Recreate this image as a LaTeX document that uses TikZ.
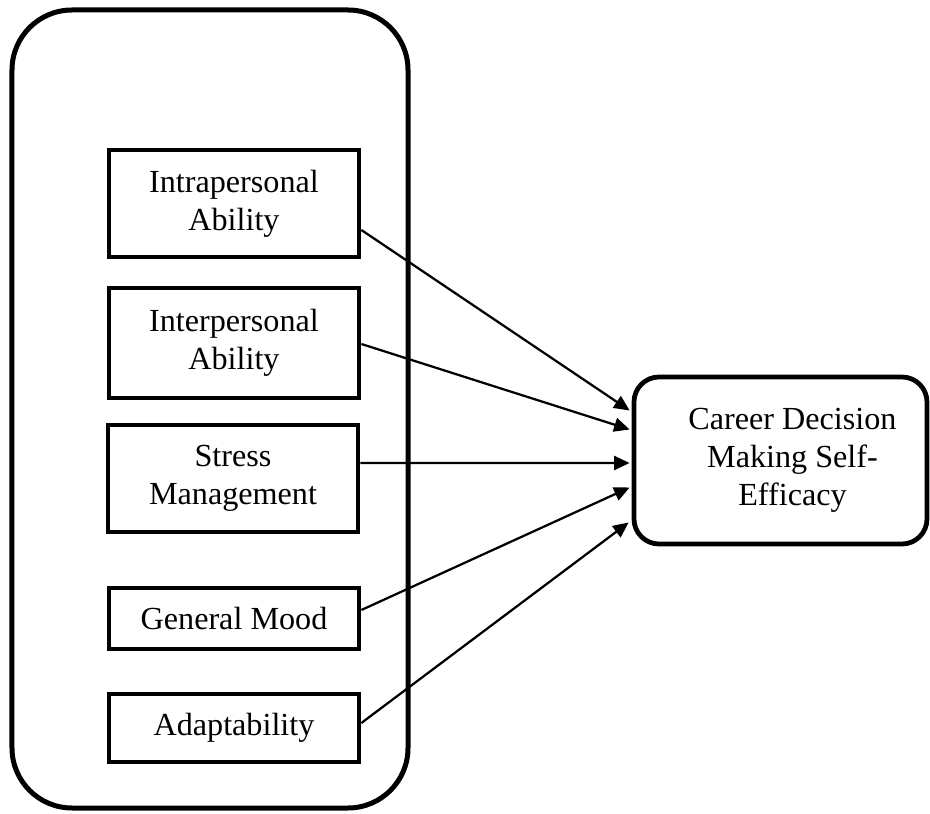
\documentclass[tikz,border=0pt]{standalone}
\usepackage{fontspec}
\setmainfont{Liberation Serif}
\usetikzlibrary{arrows.meta,calc}

\begin{document}
\begin{tikzpicture}[x=0.2mm,y=-0.2mm,
    every node/.style={font=\fontsize{18.3}{21.8}\selectfont,align=center},
    factor/.style={draw,line width=0.95mm,minimum width=50mm,inner sep=0pt},
    link/.style={line width=0.45mm,-{Triangle[length=3.1mm,width=2.8mm]}}]

    \useasboundingbox (0,0) rectangle (930,814);

    % Rounded frame around the five factors
    \node[draw,line width=1mm,rounded corners=12mm,
      minimum width=79.2mm,minimum height=159.6mm] (ei) at (210,409) {};

    % Factors
    \node[factor,minimum height=21.4mm] (intra) at (234,203.5) {Intrapersonal\\Ability};
    \node[factor,minimum height=22mm]   (inter) at (234,343)   {Interpersonal\\Ability};
    \node[factor,minimum height=21.4mm] (stress) at (233,478.5) {Stress\\Management};
    \node[factor,minimum height=12.2mm] (mood)  at (234,618.5) {General Mood};
    \node[factor,minimum height=13.6mm] (adapt) at (234,728)   {Adaptability};

    % Outcome
    \node[draw,line width=0.95mm,rounded corners=5mm,
      minimum width=58.6mm,minimum height=33.4mm,
      label={[xshift=2.4mm]center:{Career Decision\\Making Self-\\Efficacy}}] (cdse) at (780.5,460.5) {};

    % Paths into the outcome
    \draw[link] ($(intra.east)+(0,26.5)$)  -- ($(cdse.west)+(-2,-50)$);
    \draw[link] ($(inter.east)+(0,1)$)     -- ($(cdse.west)+(-2,-31)$);
    \draw[link] ($(stress.east)+(0,-15.5)$) -- ($(cdse.west)+(-2,2.5)$);
    \draw[link] ($(mood.east)+(0,-8.5)$)   -- ($(cdse.west)+(-2,27)$);
    \draw[link] ($(adapt.east)+(0,-5)$)    -- ($(cdse.west)+(-3,62)$);

\end{tikzpicture}
\end{document}
